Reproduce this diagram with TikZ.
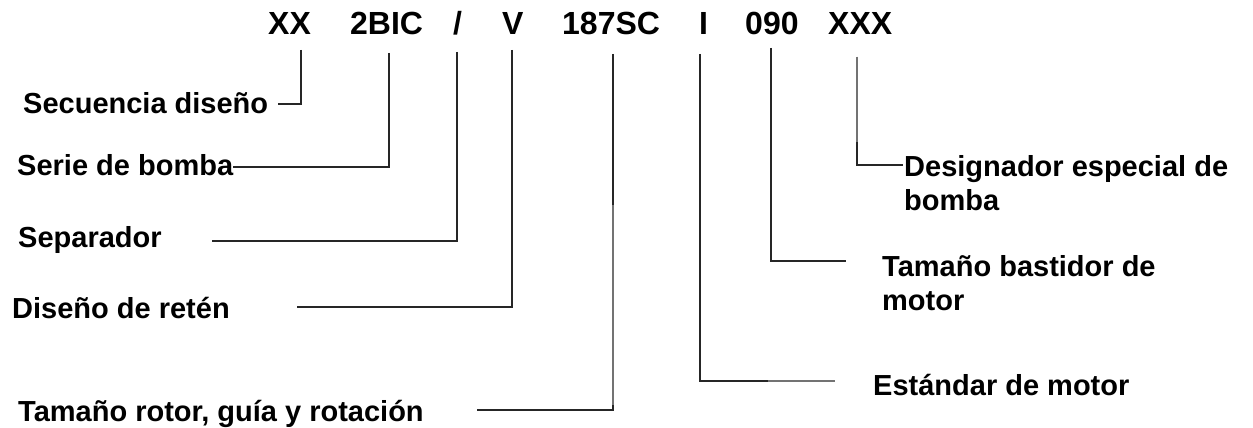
\documentclass[tikz,border=0pt]{standalone}
\usepackage{fontspec}
\setmainfont{Liberation Sans}
\begin{document}
\begin{tikzpicture}[x=1pt,y=-1pt,
  code/.style={anchor=base west,inner sep=0pt,font=\fontsize{32}{36}\selectfont\bfseries},
  lab/.style={anchor=base west,inner sep=0pt,align=left,font=\fontsize{29}{33.5}\selectfont\bfseries},
  conn/.style={draw=black!85,line width=1.6pt},
  faint/.style={draw=black!55,line width=1.6pt}]
\useasboundingbox[fill=white] (0,0) rectangle (1253,428);
% code line
\node[code] (cXX)  at (268,35) {XX};
\node[code] (cBIC) at (350,35) {2BIC};
\node[code] (cSl)  at (453,35) {/};
\node[code] (cV)   at (502,35) {V};
\node[code] (cRot) at (562,35) {187SC};
\node[code] (cI)   at (699,35) {I};
\node[code] (cFr)  at (745,35) {090};
\node[code] (cX3)  at (828,35) {XXX};
% labels
\node[lab] (lSec) at (23,113) {Secuencia diseño};
\node[lab] (lSer) at (17,175) {Serie de bomba};
\node[lab] (lSep) at (18,247) {Separador};
\node[lab] (lDis) at (12,318) {Diseño de retén};
\node[lab] (lRot) at (18,421) {Tamaño rotor, guía y rotación};
\node[lab] (lEst) at (873,395) {Estándar de motor};
\node[lab] (lBas) at (882,310) {Tamaño bastidor de\\motor};
\node[lab] (lDes) at (904,210) {Designador especial de\\bomba};
% connector ends
\coordinate (t1) at (301,50);  \coordinate (e1) at (278,104);
\coordinate (t2) at (389,53);  \coordinate (e2) at (233,167);
\coordinate (t3) at (457,52);  \coordinate (e3) at (212,241);
\coordinate (t4) at (512,50);  \coordinate (e4) at (297,307);
\coordinate (t5) at (613,54);  \coordinate (e5) at (477,410);
\coordinate (t6) at (700,54);  \coordinate (e6) at (835,381);
\coordinate (t7) at (771,48);  \coordinate (e7) at (846,261);
\coordinate (t8) at (857,57);  \coordinate (e8) at (903,165);
\draw[conn] (t1) |- (e1);
\draw[conn] (t2) |- (e2);
\draw[conn] (t3) |- (e3);
\draw[conn] (t4) |- (e4);
\draw[conn] (t5) |- (e5);
\draw[conn] (t6) |- (e6);
\draw[conn] (t7) |- (e7);
\draw[conn] (t8) |- (e8);
% lighter stretches of the printed lines
\coordinate (g5a) at (613,205); \coordinate (g5b) at (613,405);
\coordinate (g6a) at (768,381);
\coordinate (g8a) at (857,142);
\draw[faint] (g5a) -- (g5b);
\draw[faint] (g6a) -- (e6);
\draw[faint] (t8) -- (g8a);
\end{tikzpicture}
\end{document}
